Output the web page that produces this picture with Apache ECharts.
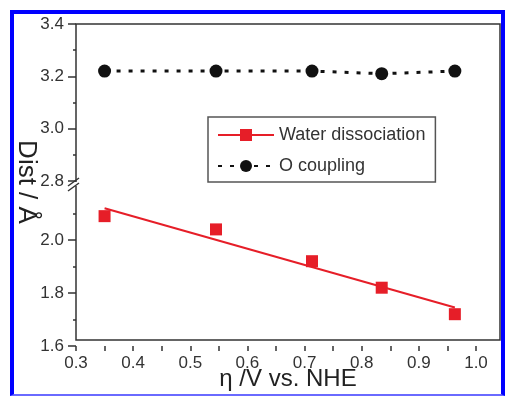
<!DOCTYPE html>
<html>
<head>
<meta charset="utf-8">
<script src="https://cdn.jsdelivr.net/npm/echarts@6.0.0/dist/echarts.min.js"></script>
<style>
  html, body { margin: 0; padding: 0; background: #fff; }
  #chart { position: absolute; left: 0; top: 0; width: 505px; height: 396px; }
  #frame {
    position: absolute; left: 10px; top: 10px; width: 487px; height: 380px;
    border-left: 4px solid #0000ff; border-top: 4px solid #0000ff;
    border-right: 4px solid #0000ff; border-bottom: 2px solid #6a6aff;
    pointer-events: none;
  }
</style>
</head>
<body>
<div id="chart"></div>
<div id="frame"></div>
<script>
// 数据
const eta = [0.35, 0.545, 0.713, 0.835, 0.963]
const oCoupling = [3.22, 3.22, 3.22, 3.21, 3.22]
const waterDiss = [2.09, 2.04, 1.92, 1.82, 1.72]
// 拟合直线两端
const fitEta = [0.35, 0.963]
const fitDist = [2.12, 1.745]

const xRange = [0.3, 1.042]
const xTicks = [0.3, 0.35, 0.4, 0.45, 0.5, 0.55, 0.6, 0.65, 0.7, 0.75, 0.8, 0.85, 0.9, 0.95, 1.0]
const xLabels = [0.3, 0.4, 0.5, 0.6, 0.7, 0.8, 0.9, 1.0]
const upperRange = [2.8, 3.4]
const lowerRange = [1.6, 2.2]
const lowerLabels = [1.6, 1.8, 2.0]
const yStep = 0.2

var fontFamily = "'Liberation Sans', Arial, sans-serif"
var axisColor = '#333'
var labelColor = '#333'
var red = '#e61e28'

const myChart = echarts.init(document.getElementById('chart'))

const pairs = (xs, ys) => xs.map((x, i) => [x, ys[i]])
const fmt = v => v.toFixed(1)
const tickLine = { color: axisColor, width: 1.5 }

const option = {
  animation: false,
  textStyle: { fontFamily: fontFamily },
  grid: [
    { left: 76, right: 5, top: 24, height: 157 },
    { left: 76, right: 5, top: 187, bottom: 50 },
    // 外框
    { left: 76, right: 5, top: 24, bottom: 50, show: true, borderColor: axisColor, borderWidth: 1.5, backgroundColor: 'transparent' }
  ],
  legend: {
    orient: 'vertical',
    left: 208,
    top: 117,
    data: ['Water dissociation', 'O coupling'],
    itemWidth: 56,
    itemHeight: 15,
    itemGap: 13,
    padding: [9, 10, 7, 9],
    borderColor: '#555',
    borderWidth: 1.5,
    backgroundColor: '#fff',
    textStyle: { fontSize: 18, color: labelColor, fontFamily: fontFamily }
  },
  xAxis: [
    { gridIndex: 0, type: 'value', min: xRange[0], max: xRange[1], show: false },
    {
      gridIndex: 1, type: 'value', min: xRange[0], max: xRange[1],
      axisLine: { show: false },
      axisTick: { show: true, inside: false, length: 5, customValues: xTicks, lineStyle: tickLine },
      axisLabel: { customValues: xLabels, formatter: fmt, fontSize: 17, color: labelColor, margin: 9 },
      splitLine: { show: false }
    },
    {
      gridIndex: 2, type: 'value', min: xRange[0], max: xRange[1],
      axisLine: { show: false }, axisTick: { show: false }, axisLabel: { show: false }, splitLine: { show: false },
      name: 'η /V vs. NHE', nameLocation: 'middle', nameGap: 27,
      nameTextStyle: { fontSize: 24, color: '#222', fontFamily: fontFamily }
    }
  ],
  yAxis: [
    {
      gridIndex: 0, type: 'value', min: upperRange[0], max: upperRange[1], interval: yStep,
      axisLine: { show: false },
      axisTick: { show: true, inside: false, length: 8, lineStyle: tickLine },
      minorTick: { show: true, splitNumber: 2, length: 3, lineStyle: tickLine },
      axisLabel: { formatter: fmt, fontSize: 17, color: labelColor, margin: 12 },
      splitLine: { show: false }
    },
    {
      gridIndex: 1, type: 'value', min: lowerRange[0], max: lowerRange[1], interval: yStep,
      axisLine: { show: false },
      axisTick: { show: true, inside: false, length: 8, customValues: lowerLabels, lineStyle: tickLine },
      minorTick: { show: true, splitNumber: 2, length: 3, lineStyle: tickLine },
      axisLabel: { customValues: lowerLabels, formatter: fmt, fontSize: 17, color: labelColor, margin: 12 },
      splitLine: { show: false }
    },
    {
      gridIndex: 2, type: 'value', min: 0, max: 1,
      axisLine: { show: false }, axisTick: { show: false }, axisLabel: { show: false }, splitLine: { show: false },
      name: 'Dist / Å', nameLocation: 'middle', nameRotate: -90, nameGap: 37,
      nameTextStyle: { fontSize: 26, color: '#222', fontFamily: fontFamily }
    }
  ],
  series: [
    {
      name: 'Water dissociation',
      type: 'line',
      xAxisIndex: 1, yAxisIndex: 1,
      data: pairs(fitEta, fitDist),
      symbol: 'rect',
      showSymbol: false,
      itemStyle: { color: red },
      lineStyle: { color: red, width: 2 }
    },
    {
      name: 'Water dissociation',
      type: 'scatter',
      xAxisIndex: 1, yAxisIndex: 1,
      data: pairs(eta, waterDiss),
      symbol: 'rect',
      symbolSize: 12,
      itemStyle: { color: red, opacity: 1 }
    },
    {
      name: 'O coupling',
      type: 'line',
      xAxisIndex: 0, yAxisIndex: 0,
      data: pairs(eta, oCoupling),
      symbol: 'circle',
      symbolSize: 13,
      itemStyle: { color: '#111' },
      lineStyle: { color: '#111', width: 3, type: [4, 8] }
    }
  ]
}

myChart.setOption(option, true)

// 断轴符号 //
var x0 = myChart.convertToPixel({ xAxisIndex: 1 }, xRange[0])
var yTop = myChart.convertToPixel({ yAxisIndex: 0 }, upperRange[0])
var yBot = myChart.convertToPixel({ yAxisIndex: 1 }, lowerRange[1])
var breakStyle = { stroke: axisColor, lineWidth: 1.5 }
myChart.setOption({
  graphic: [
    { type: 'rect', shape: { x: x0 - 2, y: yTop + 1, width: 4, height: yBot - yTop - 2 }, style: { fill: '#fff' }, z: 100 },
    { type: 'line', shape: { x1: x0 - 8, y1: yTop + 5, x2: x0 + 3, y2: yTop - 3 }, style: breakStyle, z: 101 },
    { type: 'line', shape: { x1: x0 - 8, y1: yBot + 4, x2: x0 + 3, y2: yBot - 4 }, style: breakStyle, z: 101 }
  ]
})
</script>
</body>
</html>
